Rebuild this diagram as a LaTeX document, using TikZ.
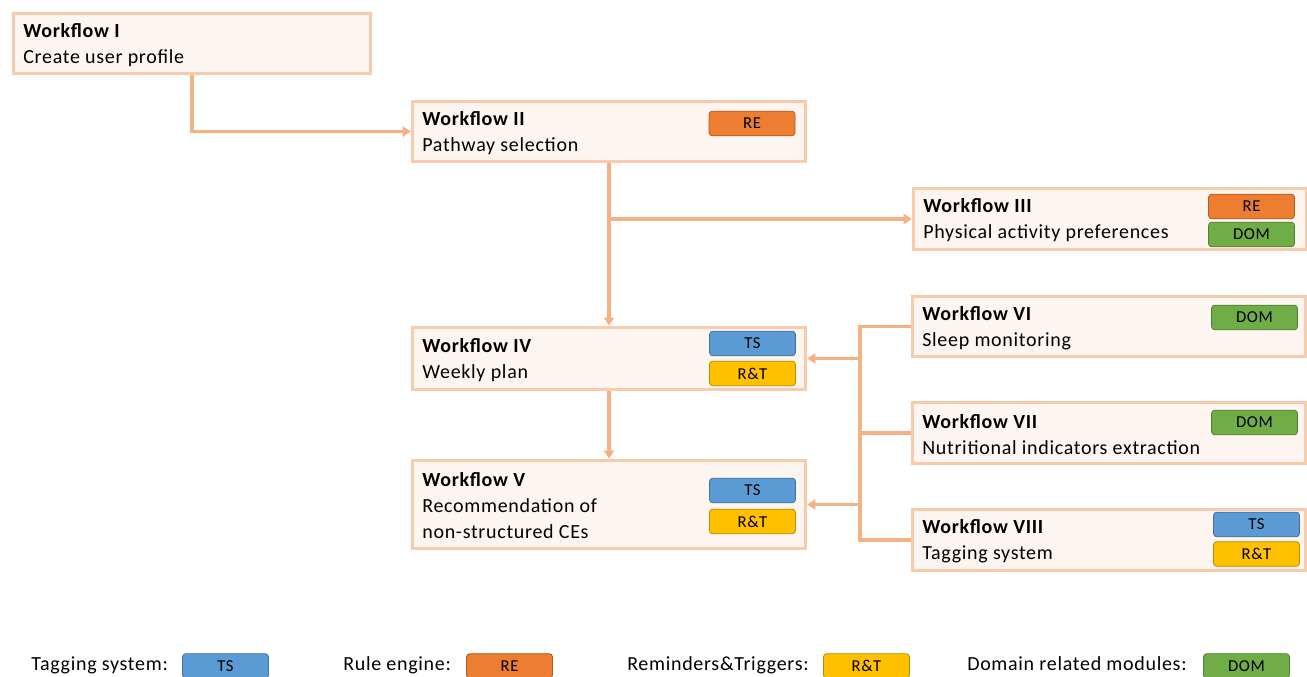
\documentclass[tikz,border=0pt]{standalone}
\usepackage{fontspec}
\setmainfont{Carlito}[LetterSpace=3.5]
\usetikzlibrary{arrows.meta,positioning,calc}
\definecolor{boxborder}{HTML}{F8CBAD}
\definecolor{boxfill}{HTML}{FDF5F0}
\definecolor{connc}{HTML}{F4B183}
\definecolor{tsfill}{HTML}{5B9BD5}\definecolor{tsdraw}{HTML}{41719C}
\definecolor{refill}{HTML}{ED7D31}\definecolor{redraw}{HTML}{AE5A21}
\definecolor{rtfill}{HTML}{FFC000}\definecolor{rtdraw}{HTML}{BC8C00}
\definecolor{domfill}{HTML}{70AD47}\definecolor{domdraw}{HTML}{507E32}
\tikzset{
  wfbox/.style={draw=boxborder, fill=boxfill, line width=2.4pt, rectangle, inner sep=0pt},
  wftext/.style={anchor=west, align=left, inner sep=0pt, font=\fontsize{15pt}{19.5pt}\selectfont},
  badge/.style={rectangle, rounded corners=2.5pt, line width=0.6pt, minimum width=64.5pt, minimum height=18.5pt, inner sep=0pt, font=\fontsize{12.5pt}{14pt}\selectfont},
  ts/.style={badge, draw=tsdraw, fill=tsfill},
  re/.style={badge, draw=redraw, fill=refill},
  rt/.style={badge, draw=rtdraw, fill=rtfill},
  dom/.style={badge, draw=domdraw, fill=domfill},
  conn/.style={draw=connc, line width=2.3pt},
  arr/.style={conn, -{Triangle[length=6pt,width=7.5pt]}},
  legtext/.style={anchor=base west, inner sep=0pt, font=\fontsize{15pt}{16pt}\selectfont},
}
\begin{document}
\begin{tikzpicture}[x=0.75pt,y=-0.75pt]
\useasboundingbox (0,0) rectangle (1307,676);
% boxes
\node[wfbox, minimum width=268pt, minimum height=45.5pt] (wf1) at (192,43.5) {};
\node[wfbox, minimum width=295pt, minimum height=45.5pt] (wf2) at (609,131.5) {};
\node[wfbox, minimum width=295pt, minimum height=46pt] (wf3) at (1110,219) {};
\node[wfbox, minimum width=295pt, minimum height=47pt] (wf4) at (609,358.5) {};
\node[wfbox, minimum width=295pt, minimum height=66.5pt] (wf5) at (609,504.5) {};
\node[wfbox, minimum width=295pt, minimum height=45.5pt] (wf6) at (1109,326.5) {};
\node[wfbox, minimum width=295pt, minimum height=46pt] (wf7) at (1109,433) {};
\node[wfbox, minimum width=295pt, minimum height=46pt] (wf8) at (1109,540) {};
% texts
\node[wftext] (t1) at ([xshift=8.5pt,yshift=-1pt]wf1.west) {\textbf{Workflow I}\\Create user profile};
\node[wftext] (t2) at ([xshift=8.5pt,yshift=-1pt]wf2.west) {\textbf{Workflow II}\\Pathway selection};
\node[wftext] (t3) at ([xshift=8.5pt,yshift=-1pt]wf3.west) {\textbf{Workflow III}\\Physical activity preferences};
\node[wftext] (t4) at ([xshift=8.5pt,yshift=-1pt]wf4.west) {\textbf{Workflow IV}\\Weekly plan};
\node[wftext] (t5) at ([xshift=8.5pt,yshift=-1pt]wf5.west) {\textbf{Workflow V}\\Recommendation of\\non-structured CEs};
\node[wftext] (t6) at ([xshift=8.5pt,yshift=-1pt]wf6.west) {\textbf{Workflow VI}\\Sleep monitoring};
\node[wftext] (t7) at ([xshift=8.5pt,yshift=-1pt]wf7.west) {\textbf{Workflow VII}\\Nutritional indicators extraction};
\node[wftext] (t8) at ([xshift=8.5pt,yshift=-1pt]wf8.west) {\textbf{Workflow VIII}\\Tagging system};
% badges
\node[re] (b2re) at (752,123.5) {RE};
\node[re] (b3re) at (1251.5,206.5) {RE};
\node[dom] (b3dom) at (1251.5,234.5) {DOM};
\node[ts] (b4ts) at (752.5,343.5) {TS};
\node[rt] (b4rt) at (752.5,373.5) {R\&T};
\node[ts] (b5ts) at (752.5,490.5) {TS};
\node[rt] (b5rt) at (752.5,521.5) {R\&T};
\node[dom] (b6dom) at (1254.5,317.5) {DOM};
\node[dom] (b7dom) at (1254.5,422.5) {DOM};
\node[ts] (b8ts) at (1256.5,524.5) {TS};
\node[rt] (b8rt) at (1256.5,554) {R\&T};
% connectors
\draw[arr] (wf1.south) |- (wf2.west);
\draw[arr] (wf2.south) -- (wf4.north);
\coordinate (br) at (wf2.south |- wf3.west);
\draw[arr] (br) -- (wf3.west);
\draw[arr] (wf4.south) -- (wf5.north);
\coordinate (bus6) at (860,326.5);
\coordinate (bus8) at (860,540);
\coordinate (bus7) at (860,433);
\coordinate (bus4) at (860,358.5);
\coordinate (bus5) at (860,504.5);
\draw[conn] (wf6.west) -- (bus6) -- (bus8) -- (wf8.west);
\draw[conn] (wf7.west) -- (bus7);
\draw[arr] (bus4) -- (wf4.east);
\draw[arr] (bus5) -- (wf5.east);
% legend
\node[legtext] (l1) at (31,670) {Tagging system:};
\node[ts] (lts) at (225.5,666) {TS};
\node[legtext] (l2) at (343,670) {Rule engine:};
\node[re] (lre) at (509.5,666) {RE};
\node[legtext] (l3) at (627,670) {Reminders\&Triggers:};
\node[rt] (lrt) at (866.5,666) {R\&T};
\node[legtext] (l4) at (967,670) {Domain related modules:};
\node[dom] (ldom) at (1246.5,666) {DOM};
\end{tikzpicture}
\end{document}
